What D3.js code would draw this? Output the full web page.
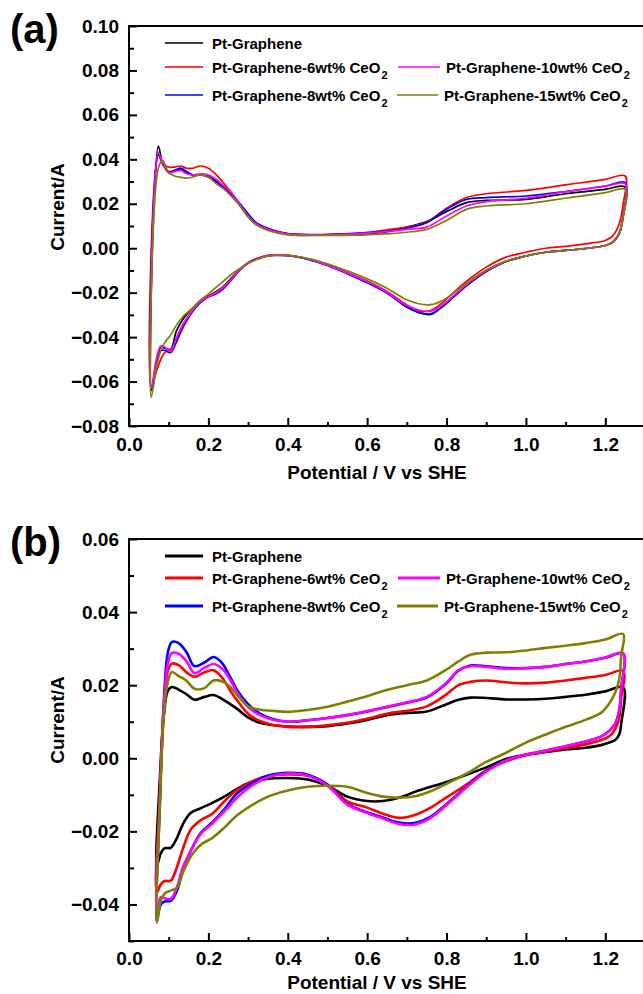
<!DOCTYPE html>
<html>
<head>
<meta charset="utf-8">
<script src="https://cdn.jsdelivr.net/npm/d3@7"></script>
<style>
  html, body { margin: 0; padding: 0; background: #fff; }
  svg { display: block; font-family: "Liberation Sans", Arial, sans-serif; font-weight: bold; }
</style>
</head>
<body>
<svg id="chart" width="643" height="994"></svg>
<script>
// ---- series labels & colours ----
const seriesNames = ["Pt-Graphene", "Pt-Graphene-6wt% CeO2", "Pt-Graphene-8wt% CeO2",
                     "Pt-Graphene-10wt% CeO2", "Pt-Graphene-15wt% CeO2"];
const seriesColors = ["#000000", "#ff0000", "#0000ff", "#ff00ff", "#808000"];

// ---- axis ticks ----
const xTicks = [0.0, 0.2, 0.4, 0.6, 0.8, 1.0, 1.2];
const xMinorTicks = [0.1, 0.3, 0.5, 0.7, 0.9, 1.1];
const yTicksA = [-0.08, -0.06, -0.04, -0.02, 0.00, 0.02, 0.04, 0.06, 0.08, 0.10];
const yMinorTicksA = [-0.07, -0.05, -0.03, -0.01, 0.01, 0.03, 0.05, 0.07, 0.09];
const yTicksB = [-0.04, -0.02, 0.00, 0.02, 0.04, 0.06];
const yMinorTicksB = [-0.05, -0.03, -0.01, 0.01, 0.03, 0.05];

// ---- panel (a): anodic sweep (potential V, current A) ----
const aAnodicV = [0.056, 0.074, 0.085, 0.10, 0.115, 0.13, 0.145, 0.16, 0.18, 0.20, 0.22, 0.24, 0.26, 0.28, 0.30,
                  0.32, 0.35, 0.40, 0.50, 0.60, 0.65, 0.70, 0.75, 0.80, 0.85, 0.90, 1.00, 1.10, 1.20, 1.25];
const aAnodicPtG = [-0.064, 0.046, 0.038, 0.0345, 0.035, 0.0355, 0.034, 0.033, 0.033, 0.0325, 0.030, 0.027, 0.0235, 0.019, 0.0145,
                    0.011, 0.0085, 0.0065, 0.006, 0.0065, 0.0075, 0.0095, 0.012, 0.0165, 0.0205, 0.0215, 0.022, 0.0245, 0.0265, 0.0275];
const aAnodicCe6 = [-0.062, 0.042, 0.038, 0.0365, 0.0365, 0.037, 0.036, 0.036, 0.037, 0.036, 0.033, 0.029, 0.0245, 0.0195, 0.015,
                    0.0115, 0.009, 0.0065, 0.006, 0.007, 0.0083, 0.0095, 0.0118, 0.018, 0.0228, 0.0245, 0.026, 0.0285, 0.031, 0.0325];
const aAnodicCe8 = [-0.064, 0.042, 0.038, 0.034, 0.035, 0.036, 0.0345, 0.033, 0.033, 0.032, 0.030, 0.027, 0.024, 0.020, 0.0155,
                    0.0115, 0.0088, 0.0066, 0.0062, 0.007, 0.0077, 0.009, 0.0115, 0.0175, 0.022, 0.0228, 0.0235, 0.0255, 0.028, 0.0295];
const aAnodicCe10 = [-0.063, 0.043, 0.038, 0.034, 0.0345, 0.035, 0.0335, 0.033, 0.0335, 0.033, 0.031, 0.028, 0.0245, 0.0195, 0.0145,
                     0.011, 0.0085, 0.0065, 0.006, 0.0068, 0.0075, 0.0085, 0.0095, 0.0145, 0.019, 0.021, 0.0225, 0.0255, 0.0278, 0.029];
const aAnodicCe15 = [-0.067, 0.036, 0.0395, 0.034, 0.0325, 0.032, 0.0315, 0.032, 0.033, 0.032, 0.029, 0.0265, 0.023, 0.019, 0.014,
                     0.0105, 0.008, 0.006, 0.0058, 0.006, 0.0065, 0.0072, 0.0085, 0.0125, 0.0175, 0.019, 0.020, 0.0225, 0.025, 0.0265];

// ---- panel (a): cathodic sweep ----
const aCathodicV = [1.245, 1.235, 1.22, 1.20, 1.16, 1.10, 1.05, 1.00, 0.95, 0.90, 0.86, 0.82, 0.79, 0.76, 0.73, 0.70, 0.65, 0.60, 0.55,
                    0.50, 0.45, 0.40, 0.35, 0.32, 0.30, 0.28, 0.26, 0.24, 0.22, 0.20, 0.18, 0.16, 0.14, 0.12, 0.105, 0.09, 0.08, 0.07];
const aCathodicPtG = [0.014, 0.0065, 0.0028, 0.0012, 0.0001, -0.001, -0.0018, -0.0035, -0.006, -0.0105, -0.0155, -0.0215, -0.0262, -0.0298, -0.029, -0.0265, -0.020, -0.0153, -0.0112,
                      -0.0076, -0.0048, -0.0032, -0.0033, -0.0048, -0.0065, -0.0095, -0.013, -0.0168, -0.0195, -0.0215, -0.0235, -0.027, -0.031, -0.037, -0.0455, -0.045, -0.0445, -0.050];
const aCathodicCe6 = [0.020, 0.011, 0.0058, 0.0035, 0.0022, 0.0008, 0.0, -0.0018, -0.004, -0.0085, -0.0135, -0.0195, -0.0245, -0.028, -0.0282, -0.0255, -0.0195, -0.0148, -0.011,
                      -0.0075, -0.0048, -0.0032, -0.0032, -0.0048, -0.0065, -0.0095, -0.0135, -0.017, -0.0198, -0.0215, -0.024, -0.0285, -0.0345, -0.0415, -0.0455, -0.047, -0.050, -0.055];
const aCathodicCe8 = [0.015, 0.0068, 0.0031, 0.0012, 0.0001, -0.001, -0.0018, -0.0035, -0.006, -0.0105, -0.0155, -0.0215, -0.0262, -0.0295, -0.0288, -0.0265, -0.0202, -0.0155, -0.0115,
                      -0.0078, -0.005, -0.0034, -0.0034, -0.005, -0.0068, -0.0098, -0.0138, -0.0178, -0.0205, -0.022, -0.0245, -0.0285, -0.0335, -0.042, -0.047, -0.046, -0.046, -0.052];
const aCathodicCe10 = [0.015, 0.0068, 0.0031, 0.0012, 0.0001, -0.001, -0.0018, -0.0035, -0.0058, -0.0102, -0.015, -0.021, -0.0255, -0.0284, -0.0278, -0.0258, -0.0198, -0.015, -0.0112,
                       -0.0076, -0.0048, -0.0032, -0.0033, -0.005, -0.0068, -0.0098, -0.0135, -0.0172, -0.020, -0.0218, -0.024, -0.028, -0.033, -0.040, -0.0465, -0.0445, -0.044, -0.049];
const aCathodicCe15 = [0.014, 0.0065, 0.0028, 0.0012, 0.0001, -0.001, -0.0018, -0.0035, -0.0058, -0.0098, -0.0145, -0.0198, -0.0235, -0.0254, -0.025, -0.0232, -0.018, -0.0138, -0.0102,
                       -0.007, -0.0046, -0.0033, -0.0036, -0.0052, -0.0068, -0.009, -0.0115, -0.0145, -0.0175, -0.0205, -0.0235, -0.027, -0.030, -0.0345, -0.039, -0.0425, -0.046, -0.053];

// ---- panel (b): anodic sweep ----
const bAnodicV = [0.07, 0.078, 0.088, 0.098, 0.108, 0.125, 0.145, 0.165, 0.19, 0.213, 0.235, 0.255, 0.275, 0.30, 0.33, 0.36, 0.40, 0.45,
                  0.50, 0.55, 0.60, 0.65, 0.70, 0.75, 0.80, 0.83, 0.86, 0.90, 0.95, 1.00, 1.05, 1.10, 1.15, 1.20, 1.245];
const bAnodicPtG = [-0.0296, -0.005, 0.012, 0.0185, 0.0195, 0.0188, 0.0175, 0.016, 0.0168, 0.0173, 0.0162, 0.0148, 0.0133, 0.0112, 0.0097, 0.0091, 0.0087, 0.0086,
                    0.0088, 0.0095, 0.0105, 0.0118, 0.0124, 0.0128, 0.0148, 0.016, 0.0166, 0.0165, 0.0161, 0.0161, 0.0163, 0.0168, 0.0174, 0.0183, 0.0194];
const bAnodicCe6 = [-0.0368, -0.010, 0.014, 0.024, 0.0259, 0.0255, 0.0235, 0.0223, 0.0235, 0.0241, 0.022, 0.0185, 0.0155, 0.0122, 0.0102, 0.0092, 0.0086, 0.0086,
                    0.009, 0.0097, 0.0108, 0.0122, 0.013, 0.0142, 0.0175, 0.020, 0.0209, 0.0213, 0.0208, 0.0205, 0.0207, 0.0213, 0.022, 0.0228, 0.0239];
const bAnodicCe8 = [-0.0446, -0.012, 0.016, 0.029, 0.0318, 0.0315, 0.029, 0.0252, 0.0262, 0.0277, 0.026, 0.0222, 0.0182, 0.0148, 0.0122, 0.0108, 0.010, 0.0104,
                    0.011, 0.0118, 0.0128, 0.014, 0.0152, 0.0166, 0.0205, 0.024, 0.0254, 0.0252, 0.0247, 0.0247, 0.025, 0.0258, 0.0265, 0.0275, 0.0286];
const bAnodicCe10 = [-0.042, -0.010, 0.015, 0.026, 0.0288, 0.0286, 0.0265, 0.0233, 0.0248, 0.0258, 0.0245, 0.0215, 0.0175, 0.014, 0.0118, 0.0106, 0.010, 0.0104,
                     0.011, 0.0118, 0.0129, 0.0141, 0.0153, 0.0168, 0.0207, 0.0241, 0.0252, 0.025, 0.0245, 0.0246, 0.025, 0.0258, 0.0265, 0.0276, 0.0288];
const bAnodicCe15 = [-0.045, -0.012, 0.012, 0.021, 0.0236, 0.0225, 0.0212, 0.019, 0.0192, 0.0213, 0.021, 0.0195, 0.017, 0.0142, 0.0133, 0.013, 0.0127, 0.0132,
                     0.0141, 0.0155, 0.017, 0.0187, 0.020, 0.0213, 0.0243, 0.0265, 0.0283, 0.0289, 0.029, 0.0295, 0.0302, 0.0308, 0.0315, 0.0325, 0.034];

// ---- panel (b): cathodic sweep ----
const bCathodicV = [1.24, 1.235, 1.225, 1.21, 1.19, 1.15, 1.10, 1.05, 1.00, 0.95, 0.90, 0.85, 0.80, 0.76, 0.72, 0.68, 0.64,
                    0.60, 0.55, 0.50, 0.45, 0.40, 0.35, 0.30, 0.27, 0.24, 0.21, 0.18, 0.155, 0.135, 0.12, 0.105, 0.09, 0.08];
const bCathodicPtG = [0.0095, 0.0065, 0.005, 0.0043, 0.0036, 0.0029, 0.0024, 0.0017, 0.001, -0.0002, -0.0025, -0.0045, -0.0065, -0.0078, -0.0092, -0.0108, -0.0117,
                      -0.0117, -0.0105, -0.0075, -0.0058, -0.0054, -0.0056, -0.0068, -0.0085, -0.0105, -0.0122, -0.0137, -0.015, -0.0182, -0.022, -0.0245, -0.0246, -0.026];
const bCathodicCe6 = [0.0165, 0.011, 0.008, 0.006, 0.005, 0.0038, 0.0028, 0.0018, 0.0008, -0.0008, -0.0033, -0.0072, -0.0107, -0.0135, -0.0155, -0.0163, -0.0152,
                      -0.0135, -0.0118, -0.0072, -0.0048, -0.0044, -0.0048, -0.0068, -0.0088, -0.0118, -0.0152, -0.017, -0.0196, -0.025, -0.030, -0.0335, -0.0336, -0.0345];
const bCathodicCe8 = [0.019, 0.013, 0.0095, 0.0075, 0.006, 0.0046, 0.0033, 0.0021, 0.001, -0.0005, -0.0035, -0.0078, -0.0125, -0.016, -0.0177, -0.0176, -0.0162,
                      -0.0148, -0.0125, -0.0072, -0.0045, -0.004, -0.0048, -0.0075, -0.0098, -0.014, -0.0175, -0.0205, -0.0255, -0.031, -0.0365, -0.039, -0.0392, -0.040];
const bCathodicCe10 = [0.019, 0.013, 0.0095, 0.0075, 0.006, 0.0046, 0.0033, 0.0021, 0.001, -0.0006, -0.0037, -0.008, -0.0128, -0.0163, -0.0181, -0.018, -0.0165,
                       -0.015, -0.0127, -0.0075, -0.0048, -0.0042, -0.0052, -0.0082, -0.011, -0.0145, -0.0178, -0.0208, -0.0255, -0.030, -0.0355, -0.0385, -0.0383, -0.038];
const bCathodicCe15 = [0.028, 0.0215, 0.018, 0.015, 0.0125, 0.0105, 0.0086, 0.0065, 0.0043, 0.0015, -0.001, -0.0042, -0.007, -0.009, -0.0104, -0.0108, -0.0105,
                       -0.0095, -0.0078, -0.0075, -0.0078, -0.0088, -0.0105, -0.0135, -0.0158, -0.019, -0.0218, -0.0237, -0.027, -0.0315, -0.0355, -0.0362, -0.037, -0.039];

const svg = d3.select("#chart");
const FONT = '"Liberation Sans", Arial, sans-serif';

function drawPanel(p) {
  const g = svg.append("g");
  const x = d3.scaleLinear().domain([0, 1.3]).range([129, 645]);
  const y = d3.scaleLinear().domain(p.yDomain).range([p.bottom, p.top]);

  // minor ticks (inward)
  g.append("g").attr("transform", `translate(0,${p.bottom})`)
    .call(d3.axisBottom(x).tickValues(xMinorTicks).tickSize(-4).tickFormat(""));
  g.append("g").attr("transform", "translate(129,0)")
    .call(d3.axisLeft(y).tickValues(p.yMinor).tickSize(-5).tickFormat(""));

  // major ticks with labels
  g.append("g").attr("class", "xaxis").attr("transform", `translate(0,${p.bottom})`)
    .call(d3.axisBottom(x).tickValues(xTicks).tickSize(-8).tickPadding(p.xPad).tickFormat(d3.format(".1f")));
  g.append("g").attr("class", "yaxis").attr("transform", "translate(129,0)")
    .call(d3.axisLeft(y).tickValues(p.yTicks).tickSize(-8).tickPadding(10).tickFormat(d3.format(".2f")));

  g.selectAll(".domain").remove();
  g.selectAll(".tick line").attr("stroke", "#000").attr("stroke-width", 2);
  g.selectAll(".tick text").attr("fill", "#000").attr("font-size", 19)
    .attr("font-weight", "bold").attr("font-family", FONT);

  // frame
  g.append("rect").attr("x", 129).attr("y", p.top)
    .attr("width", 645 - 129).attr("height", p.bottom - p.top)
    .attr("fill", "none").attr("stroke", "#000").attr("stroke-width", 2);

  // CV loops
  const line = d3.line().x(d => x(d[0])).y(d => y(d[1]))
    .curve(d3.curveCatmullRomClosed.alpha(0.5));
  p.anodic.forEach((an, i) => {
    const pts = p.anodicV.map((v, j) => [v, an[j]])
      .concat(p.cathodicV.map((v, j) => [v, p.cathodic[i][j]]));
    g.append("path").datum(pts).attr("d", line)
      .attr("fill", "none").attr("stroke", seriesColors[i])
      .attr("stroke-width", p.lineWidth).attr("stroke-linejoin", "round");
  });

  // axis titles
  g.append("text").attr("x", 377).attr("y", p.bottom + p.xTitleDy)
    .attr("text-anchor", "middle").attr("font-size", 19).attr("font-family", FONT)
    .text("Potential / V vs SHE");
  g.append("text").attr("transform", `translate(57,${p.yTitleY}) rotate(-90)`)
    .attr("dy", "0.35em").attr("text-anchor", "middle").attr("font-size", 19).attr("font-family", FONT)
    .text("Current/A");

  // panel tag
  g.append("text").attr("x", 10).attr("y", p.tagY).attr("font-size", 40).attr("font-family", FONT)
    .text(p.tag);

  // legend
  const slots = [
    { x1: 165, x2: 203, tx: 212, row: 0 },
    { x1: 165, x2: 203, tx: 212, row: 1 },
    { x1: 165, x2: 203, tx: 212, row: 2 },
    { x1: 398, x2: 440, tx: 446, row: 1 },
    { x1: 397, x2: 438, tx: 444, row: 2 }
  ];
  seriesNames.forEach((name, i) => {
    const s = slots[i];
    const ly = p.legendRows[s.row];
    g.append("line").attr("x1", s.x1).attr("x2", s.x2).attr("y1", ly).attr("y2", ly)
      .attr("stroke", seriesColors[i]).attr("stroke-width", p.legendWidth);
    const t = g.append("text").attr("x", s.tx).attr("y", ly + 5.5)
      .attr("font-size", 15).attr("font-family", FONT);
    if (name.endsWith("CeO2")) {
      t.append("tspan").text(name.slice(0, -1));
      t.append("tspan").attr("font-size", 11).attr("dx", 1).attr("dy", 6).text("2");
    } else {
      t.text(name);
    }
  });
}

drawPanel({
  tag: "(a)", tagY: 43,
  top: 26, bottom: 426, yDomain: [-0.08, 0.10],
  yTicks: yTicksA, yMinor: yMinorTicksA, xPad: 12,
  xTitleDy: 53, yTitleY: 207,
  lineWidth: 1.7, legendWidth: 1.6, legendRows: [43, 67, 95],
  anodicV: aAnodicV, cathodicV: aCathodicV,
  anodic: [aAnodicPtG, aAnodicCe6, aAnodicCe8, aAnodicCe10, aAnodicCe15],
  cathodic: [aCathodicPtG, aCathodicCe6, aCathodicCe8, aCathodicCe10, aCathodicCe15]
});

drawPanel({
  tag: "(b)", tagY: 556,
  top: 539, bottom: 941, yDomain: [-0.05, 0.06],
  yTicks: yTicksB, yMinor: yMinorTicksB, xPad: 11,
  xTitleDy: 48, yTitleY: 720,
  lineWidth: 2.6, legendWidth: 3, legendRows: [556, 578, 606],
  anodicV: bAnodicV, cathodicV: bCathodicV,
  anodic: [bAnodicPtG, bAnodicCe6, bAnodicCe8, bAnodicCe10, bAnodicCe15],
  cathodic: [bCathodicPtG, bCathodicCe6, bCathodicCe8, bCathodicCe10, bCathodicCe15]
});
</script>
</body>
</html>
